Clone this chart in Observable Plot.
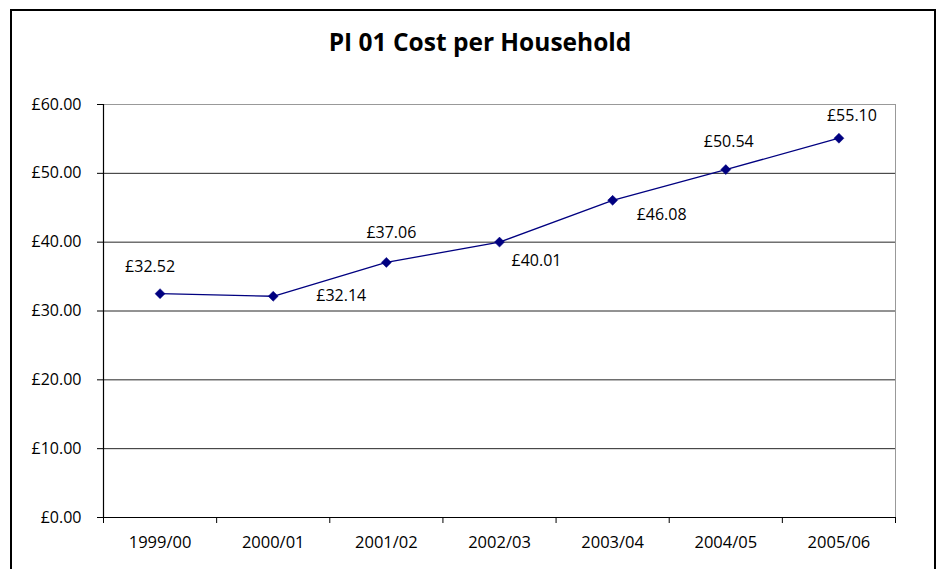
<!DOCTYPE html>
<html><head><meta charset="utf-8">
<script src="https://cdn.jsdelivr.net/npm/d3@7"></script>
<script src="https://cdn.jsdelivr.net/npm/@observablehq/plot@0.6"></script>
<style>
html,body{margin:0;padding:0;background:#fff;width:940px;height:569px;overflow:hidden;font-family:"Open Sans",sans-serif;}
#frame{position:absolute;left:10px;top:9px;width:926px;height:600px;border:2px solid #000;box-sizing:border-box;}
#title{position:absolute;left:10px;width:940px;top:25px;text-align:center;font-weight:bold;font-size:24.5px;color:#000;}
#chart{position:absolute;left:0;top:60px;}
</style></head>
<body>
<div id="frame"></div>
<div id="title">PI 01 Cost per Household</div>
<div id="chart"></div>
<script>
const categories = ["1999/00","2000/01","2001/02","2002/03","2003/04","2004/05","2005/06"];
const values = [32.52, 32.14, 37.06, 40.01, 46.08, 50.54, 55.10];
const yTicks = [0, 10, 20, 30, 40, 50, 60];
// label placement offsets (style)
const labelDx = [-10, 68, 5, 37, 49, 3, 13];
const labelDy = [-27, 0, -30, 19, 15, -28, -22];

const data = categories.map((c, i) => ({c, i, x: i + 0.5, v: values[i]}));
const fmt = v => "£" + v.toFixed(2);
const navy = "#000080";

const plot = Plot.plot({
  width: 940, height: 509,
  marginLeft: 103, marginRight: 45, marginTop: 44, marginBottom: 52,
  style: {fontFamily: "'Open Sans', sans-serif", fontSize: "16px", color: "#000", background: "transparent"},
  x: {type: "linear", domain: [0, categories.length], axis: null},
  y: {domain: [0, 60], axis: null},
  marks: [
    Plot.ruleY(yTicks.filter(t => t > 0 && t < 60), {stroke: "#000", strokeWidth: 1, strokeOpacity: 0.85}),
    Plot.ruleY([60], {stroke: "#999", strokeWidth: 1}),
    Plot.ruleX([categories.length], {stroke: "#999", strokeWidth: 1}),
    Plot.axisY({ticks: yTicks, tickFormat: fmt, tickSize: 6, tickPadding: 16, stroke: "#000", label: null, fontSize: 16}),
    Plot.axisX({ticks: d3.range(0, categories.length + 1), tickFormat: () => "", tickSize: 6, stroke: "#000", label: null}),
    Plot.axisX({ticks: data.map(d => d.x), tickFormat: (d) => categories[Math.floor(d)], tickSize: 0, tickPadding: 19, label: null, fontSize: 16.5}),
    Plot.ruleY([0], {stroke: "#000", strokeWidth: 1.2}),
    Plot.ruleX([0], {stroke: "#000", strokeWidth: 1.2}),
    Plot.line(data, {x: "x", y: "v", stroke: navy, strokeWidth: 1.3}),
    Plot.dot(data, {x: "x", y: "v", symbol: "diamond2", r: 4.5, fill: navy, stroke: navy, strokeWidth: 0.5}),
    ...data.map((d, i) => Plot.text([d], {x: "x", y: "v", text: dd => fmt(dd.v), dx: labelDx[i], dy: labelDy[i], fontSize: 16, fill: "#000"}))
  ]
});
document.getElementById("chart").appendChild(plot);
</script>
</body></html>
